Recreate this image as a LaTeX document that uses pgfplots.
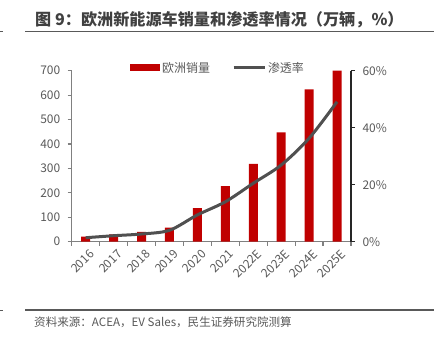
\documentclass[border=0pt]{standalone}
\usepackage{pgfplots}
\pgfplotsset{compat=1.18}
\usepackage{fontspec}
\setmainfont{Noto Sans CJK SC}
\definecolor{barred}{HTML}{C00000}
\definecolor{linegray}{HTML}{505050}
\definecolor{txtgray}{HTML}{595959}
\definecolor{titlegray}{HTML}{404040}
\definecolor{axgray}{HTML}{808080}
\begin{document}
\begin{tikzpicture}[x=1bp,y=1bp]
\useasboundingbox (0,0) rectangle (434,343);
\node[anchor=west, inner sep=0, font=\fontsize{16.2}{19}\selectfont\bfseries, text=titlegray] at (35,323.5) {图 9：欧洲新能源车销量和渗透率情况（万辆，\%）};
\draw[txtgray, line width=1.2bp] (25,311.5) -- (434,311.5);
\draw[txtgray, line width=1bp] (0,311.5) -- (3,311.5);
\draw[txtgray, line width=1.2bp] (25,33) -- (434,33);
\draw[txtgray, line width=1bp] (0,33) -- (3,33);
\node[anchor=west, inner sep=0, font=\fontsize{11.6}{14}\selectfont, text=txtgray] at (34,21) {资料来源：ACEA，EV Sales，民生证券研究院测算};

\begin{axis}[
  at={(71.7bp,101.3bp)}, anchor=south west,
  scale only axis, width=279.3bp, height=171bp,
  xmin=-0.5, xmax=9.5, ymin=0, ymax=700,
  axis y line*=left, axis x line*=bottom,
  axis line style={-, axgray, line width=1.2bp},
  xtick={0,...,9},
  xticklabels={2016,2017,2018,2019,2020,2021,2022E,2023E,2024E,2025E},
  major x tick style={draw=none},
  minor xtick={-0.5,0.5,...,9.5},
  ytick={0,100,...,700},
  tick align=outside,
  major tick length=4bp, minor tick length=4bp,
  tick style={axgray, line width=1.2bp},
  ticklabel style={font=\fontsize{12}{14}\selectfont, text=txtgray},
  yticklabel style={xshift=-4bp},
  xticklabel style={rotate=45, anchor=east, xshift=3.5bp, yshift=-9bp},
  /pgf/number format/assume math mode=true,
  legend columns=2,
  legend style={draw=none, fill=none, at={(0.524,1.016)}, anchor=center,
    font=\fontsize{12}{14}\selectfont, text=txtgray,
    /tikz/every even column/.append style={column sep=20bp}},
]
\addplot[ybar, bar width=9bp, fill=barred, draw=none,
  legend image code/.code={\fill[barred] (0bp,-3.5bp) rectangle (30bp,3.5bp);}]
  coordinates {(0,21) (1,30) (2,40) (3,58) (4,137) (5,228) (6,319) (7,448) (8,624) (9,700)};
\addlegendentry{欧洲销量}
\addlegendimage{legend image code/.code={\draw[linegray, line width=3bp] (0bp,0bp) -- (31bp,0bp);}}
\addlegendentry{渗透率}
\end{axis}

\begin{axis}[
  at={(71.7bp,101.3bp)}, anchor=south west,
  scale only axis, width=279.3bp, height=171bp,
  xmin=-0.5, xmax=9.5, ymin=0, ymax=60,
  axis y line*=right, axis x line=none,
  axis line style={-, black!85, line width=1.2bp},
  ytick={0,20,40,60},
  yticklabel={\pgfmathprintnumber{\tick}\%},
  tick align=outside,
  major tick length=4bp,
  tick style={black!85, line width=1.2bp},
  ticklabel style={font=\fontsize{12}{14}\selectfont, text=txtgray},
  yticklabel style={xshift=4bp},
  /pgf/number format/assume math mode=true,
]
\addplot[linegray, line width=3bp, smooth]
  coordinates {(0,1.4) (1,2.1) (2,2.7) (3,4.0) (4,9.4) (5,14.0) (6,20.5) (7,26.9) (8,36.3) (9,49.1)};
\end{axis}
\end{tikzpicture}
\end{document}
